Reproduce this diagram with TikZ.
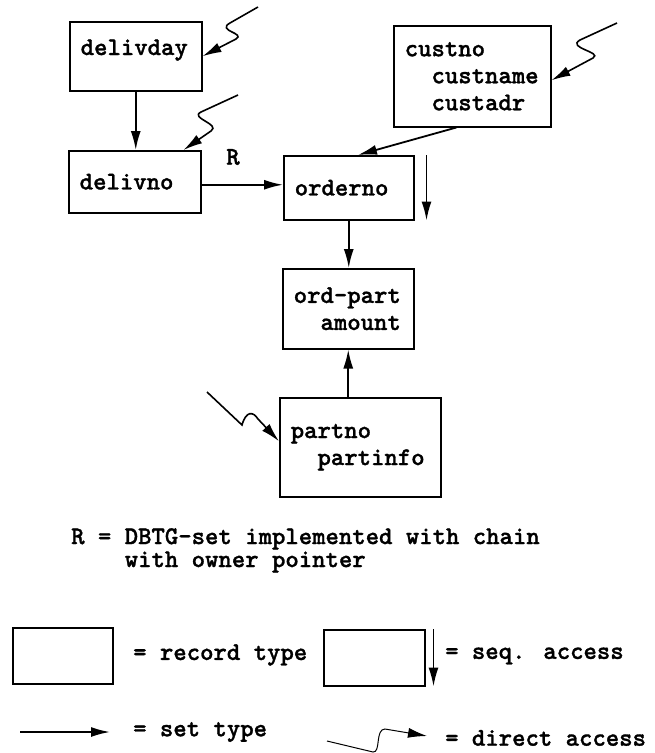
\documentclass[tikz,border=0pt]{standalone}
\usepackage{fontspec}
\usetikzlibrary{calc,arrows.meta}

\newfontfamily\typefont{lmmonolt10-bold.otf}[FakeBold=1.2]
\newcommand\typewr{\typefont\fontsize{25.5}{27}\selectfont}

\tikzset{
  rectype/.style={draw,line width=1.5pt,rectangle,anchor=north west,inner xsep=11pt,inner ysep=0pt,align=left,
    font=\typewr},
  txt/.style={inner sep=0pt,font=\typewr},
  settype/.style={line width=1.8pt,-{Latex[length=19pt,width=10pt]}},
  directacc/.style={line width=1.6pt,-{Latex[length=19pt,width=10pt]}},
}

\begin{document}
\begin{tikzpicture}[x=1pt,y=-1pt]
  \useasboundingbox (0,0) rectangle (655,753);
  % record types
  \node[rectype,text width=110pt,minimum height=69pt] (delivday) at (69,21) {delivday\\[-9pt]\mbox{}};
  \node[rectype,text width=110pt,minimum height=62pt] (delivno) at (68,150) {delivno};
  \node[rectype,text width=108pt,minimum height=64pt] (orderno) at (283,155) {orderno};
  \node[rectype,text width=135pt,minimum height=101pt] (custno) at (393,25) {custno\\\hspace*{1.05em}custname\\\hspace*{1.05em}custadr};
  \node[rectype,text width=109pt,minimum height=80pt] (ordpart) at (282,268) {ord-part\\\hspace*{1.05em}amount};
  \node[rectype,text width=139pt,minimum height=99pt] (partno) at (279,397) {partno\\\hspace*{1.05em}partinfo};
  % set types
  \draw[settype] (delivday.south) -- (delivday.south |- delivno.north);
  \draw[settype] ([yshift=-3pt]delivno.east) -- ([yshift=-3pt]delivno.east -| orderno.west);
  \node[txt] (rmark) at (233,157) {R};
  \draw[settype] ($(custno.south west)!0.4!(custno.south east)$) -- ($(orderno.north west)!0.57!(orderno.north east)$);
  \draw[settype] (orderno.south) -- (orderno.south |- ordpart.north);
  \draw[settype] (partno.north -| ordpart.south) -- (ordpart.south);
  % seq. access
  \draw[settype] ([xshift=12pt]orderno.north east) -- ([xshift=12pt]orderno.south east);
  % direct access
  \coordinate (ddfree) at (258,7);
  \coordinate (dnfree) at (238,95);
  \coordinate (cnfree) at (617,23);
  \coordinate (pnfree) at (207,392);
  \draw[directacc] (ddfree) -- ++(-28,16) .. controls +(-14,8) and +(10,-6) .. ++(6,16) -- (delivday.east);
  \draw[directacc] (dnfree) -- ++(-37,17) .. controls +(-12,6) and +(10,-7) .. ++(10,19) -- ([xshift=-18pt]delivno.north east);
  \draw[directacc] (cnfree) -- ++(-37,17) .. controls +(-14,8) and +(10,-6) .. ++(13,18) -- ([yshift=-4pt]custno.east);
  \draw[directacc] (pnfree) -- ++(35,33) .. controls +(4,-14) and +(-5,-8) .. ++(16,-6) -- ([yshift=6pt]partno.west);
  % legend
  \node[txt,anchor=north west,align=left] (rnote) at (71,528) {R = DBTG-set implemented with chain\\[-4pt]\hspace*{2.1em}with owner pointer};
  \node[rectype,minimum width=100pt,minimum height=56pt,inner sep=0pt] (recbox) at (12,627) {};
  \node[txt,anchor=west] (rectxt) at (133,655) {= record type};
  \node[rectype,minimum width=101pt,minimum height=56pt,inner sep=0pt] (seqbox) at (323,629) {};
  \draw[settype] ([xshift=8pt]seqbox.north east) -- ([xshift=8pt]seqbox.south east);
  \node[txt,anchor=west] (seqtxt) at (445,656) {= seq. access};
  \coordinate (setfree) at (20,732);
  \coordinate (setend) at (110,732);
  \draw[settype] (setfree) -- (setend);
  \node[txt,anchor=west] (settxt) at (133,732) {= set type};
  \coordinate (dafree) at (327,741);
  \coordinate (daend) at (427,736);
  \draw[directacc,line width=1pt] (dafree) -- ++(46,11) .. controls +(8,1) and +(-10,0) .. ++(12,-23) -- (daend);
  \node[txt,anchor=west] (datxt) at (445,738) {= direct access};
\end{tikzpicture}
\end{document}
